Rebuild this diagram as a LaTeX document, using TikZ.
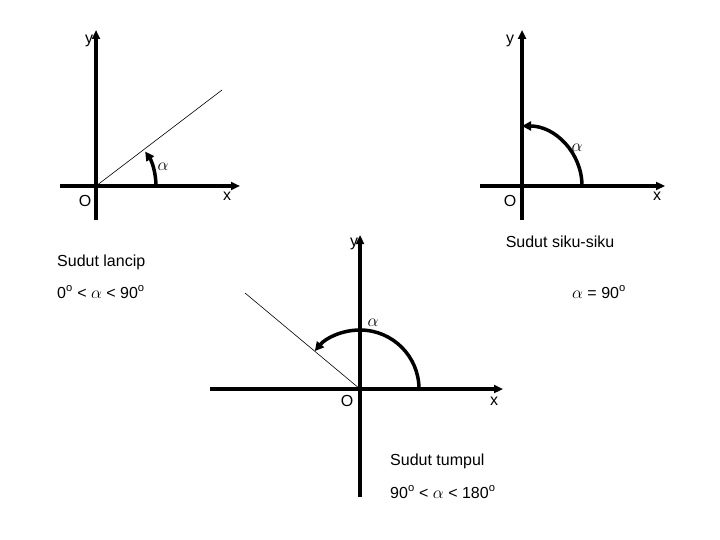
\documentclass[tikz,border=0pt]{standalone}
\usepackage{fontspec}
\setmainfont{Liberation Sans}
\usetikzlibrary{arrows.meta}
\begin{document}
\begin{tikzpicture}[x=1pt,y=-1pt,
  axis/.style={line width=3.5pt,-{Triangle[length=9pt,width=8pt]}},
  arc/.style={line width=3.5pt,-{Triangle[length=9pt,width=9pt]}},
  ray/.style={line width=0.6pt},
  lbl/.style={font=\fontsize{16}{19}\selectfont,inner sep=0pt},
  sml/.style={font=\fontsize{17}{19}\selectfont,inner sep=0pt}]
\useasboundingbox (0,0) rectangle (720,540);
% diagram 1
\coordinate (O1) at (96,186);
\coordinate (Y1b) at (96,220); \coordinate (Y1t) at (96,30);
\coordinate (X1l) at (60,186); \coordinate (X1r) at (240,186);
\coordinate (R1) at (222,90);
\draw[axis] (Y1b) -- (Y1t);
\draw[axis] (X1l) -- (X1r);
\draw[ray] (O1) -- (R1);
\draw[arc] (156,186) arc[start angle=0,end angle=-35,radius=60];
\node[lbl] (y1) at (89,41) {y};
\node[lbl] (x1) at (227,196) {x};
\node[lbl] (o1) at (85,201) {O};
\node[sml] (a1) at (163,167) {$\alpha$};
\node[lbl,anchor=west] (t1) at (57,262) {Sudut lancip};
\node[lbl,anchor=west] (t1b) at (57,292) {0\textsuperscript{o} < $\alpha$ < 90\textsuperscript{o}};
% diagram 2
\coordinate (O2) at (522,186);
\coordinate (Y2b) at (522,220); \coordinate (Y2t) at (522,30);
\coordinate (X2l) at (480,186); \coordinate (X2r) at (665,186);
\draw[axis] (Y2b) -- (Y2t);
\draw[axis] (X2l) -- (X2r);
\draw[arc] (582,186) arc[start angle=0,end angle=-90,radius=60];
\node[lbl] (y2) at (510,41) {y};
\node[lbl] (x2) at (657,196) {x};
\node[lbl] (o2) at (510,201) {O};
\node[sml] (a2) at (577,148) {$\alpha$};
\node[lbl] (t2) at (560,242) {Sudut siku-siku};
\node[lbl,anchor=east] (t2b) at (626,292) {$\alpha$ = 90\textsuperscript{o}};
% diagram 3
\coordinate (O3) at (360,389);
\coordinate (Y3b) at (360,497); \coordinate (Y3t) at (360,235);
\coordinate (X3l) at (210,389); \coordinate (X3r) at (503,389);
\coordinate (R3) at (245,293);
\draw[axis] (Y3b) -- (Y3t);
\draw[axis] (X3l) -- (X3r);
\draw[ray] (O3) -- (R3);
\draw[arc] (419,389) arc[start angle=0,end angle=-140,radius=59];
\node[lbl] (y3) at (354,244) {y};
\node[lbl] (x3) at (494,401) {x};
\node[lbl] (o3) at (347,401) {O};
\node[sml] (a3) at (373,323) {$\alpha$};
\node[lbl,anchor=west] (t3) at (390,461) {Sudut tumpul};
\node[lbl,anchor=west] (t3b) at (390,492) {90\textsuperscript{o} < $\alpha$ < 180\textsuperscript{o}};
\end{tikzpicture}
\end{document}
